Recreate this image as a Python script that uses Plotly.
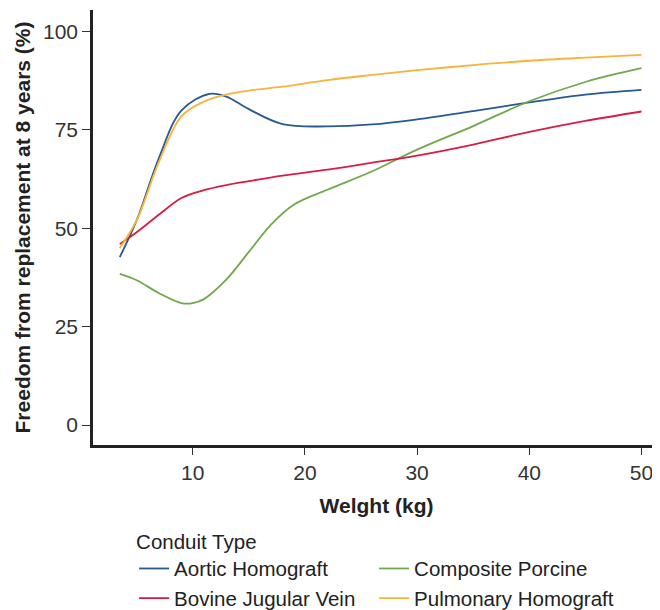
import plotly.graph_objects as go

weights_aortic = [3.5, 5, 7, 9, 11.5, 13, 15, 18, 22, 26, 30, 35, 40, 45, 50]
aortic = [42.7, 52, 68, 80, 84.2, 83.5, 80.3, 76.5, 75.9, 76.4, 77.7, 79.8, 82, 84, 85.2]

weights_pulm = [3.5, 5, 7, 9, 11, 13, 15, 18, 22, 26, 30, 35, 40, 45, 50]
pulmonary = [45, 52, 67, 78.5, 82.2, 84, 85, 86, 87.7, 89, 90.2, 91.5, 92.6, 93.4, 94.1]

weights_bov = [3.5, 5, 7, 9, 11, 13, 15, 18, 22, 26, 30, 35, 40, 45, 50]
bovine = [46, 49, 53.5, 57.7, 59.7, 61, 62, 63.4, 64.9, 66.7, 68.5, 71.3, 74.5, 77.3, 79.7]

weights_comp = [3.5, 5, 7, 9, 10, 11, 13, 15, 17, 19, 22, 26, 30, 35, 40, 45, 50]
composite = [38.4, 36.8, 33.5, 31, 31, 32, 37, 44, 51, 56, 59.8, 64.5, 70, 76, 82.3, 87.2, 90.7]

x_ticks = [10, 20, 30, 40, 50]
y_ticks = [0, 25, 50, 75, 100]

series = [
    ("Aortic Homograft", weights_aortic, aortic, "#275a8f"),
    ("Composite Porcine", weights_comp, composite, "#70a84a"),
    ("Bovine Jugular Vein", weights_bov, bovine, "#d81d45"),
    ("Pulmonary Homograft", weights_pulm, pulmonary, "#f9b338"),
]

fig = go.Figure()
for name, xs, ys, col in series:
    fig.add_trace(go.Scatter(x=xs, y=ys, name=name, mode="lines",
                             line=dict(color=col, width=1.8, shape="spline", smoothing=1.0)))

font_family = "Liberation Sans, Arial, sans-serif"
# the page body adds an 8px offset, so the figure is 8px smaller on each side
fig.update_layout(
    width=652, height=602,
    margin=dict(l=85, r=0, t=2, b=165, autoexpand=False),
    paper_bgcolor="white", plot_bgcolor="white",
    font=dict(family=font_family, color="#333", size=21),
    showlegend=True,
    legend=dict(
        orientation="h", x=0.0725, xanchor="left", y=-0.177, yanchor="top",
        entrywidth=195, entrywidthmode="pixels",
        title=dict(text="Conduit Type", side="top", font=dict(size=20.5, color="#222")),
        font=dict(size=20.5, color="#222"),
        tracegroupgap=0, itemwidth=30,
    ),
    xaxis=dict(
        range=[1.11, 51.65], tickvals=x_ticks, ticks="outside", ticklen=7, tickwidth=1.2,
        tickcolor="#333", showline=True, linecolor="#222", linewidth=2.5,
        showgrid=False, zeroline=False, automargin=False,
        tickfont=dict(size=21, color="#333"),
        title=dict(text="<b>Welght (kg)</b>", font=dict(size=21, color="#222"), standoff=16),
    ),
    yaxis=dict(
        range=[-5.08, 105.5], tickvals=y_ticks, ticks="outside", ticklen=8, tickwidth=1.2,
        tickcolor="#333", showline=True, linecolor="#222", linewidth=2.5,
        showgrid=False, zeroline=False, automargin=False,
        tickfont=dict(size=21, color="#333"),
        title=dict(text="<b>Freedom from replacement at 8 years (%)</b>",
                   font=dict(size=21, color="#222"), standoff=7),
    ),
)

fig.write_html("out.html")
